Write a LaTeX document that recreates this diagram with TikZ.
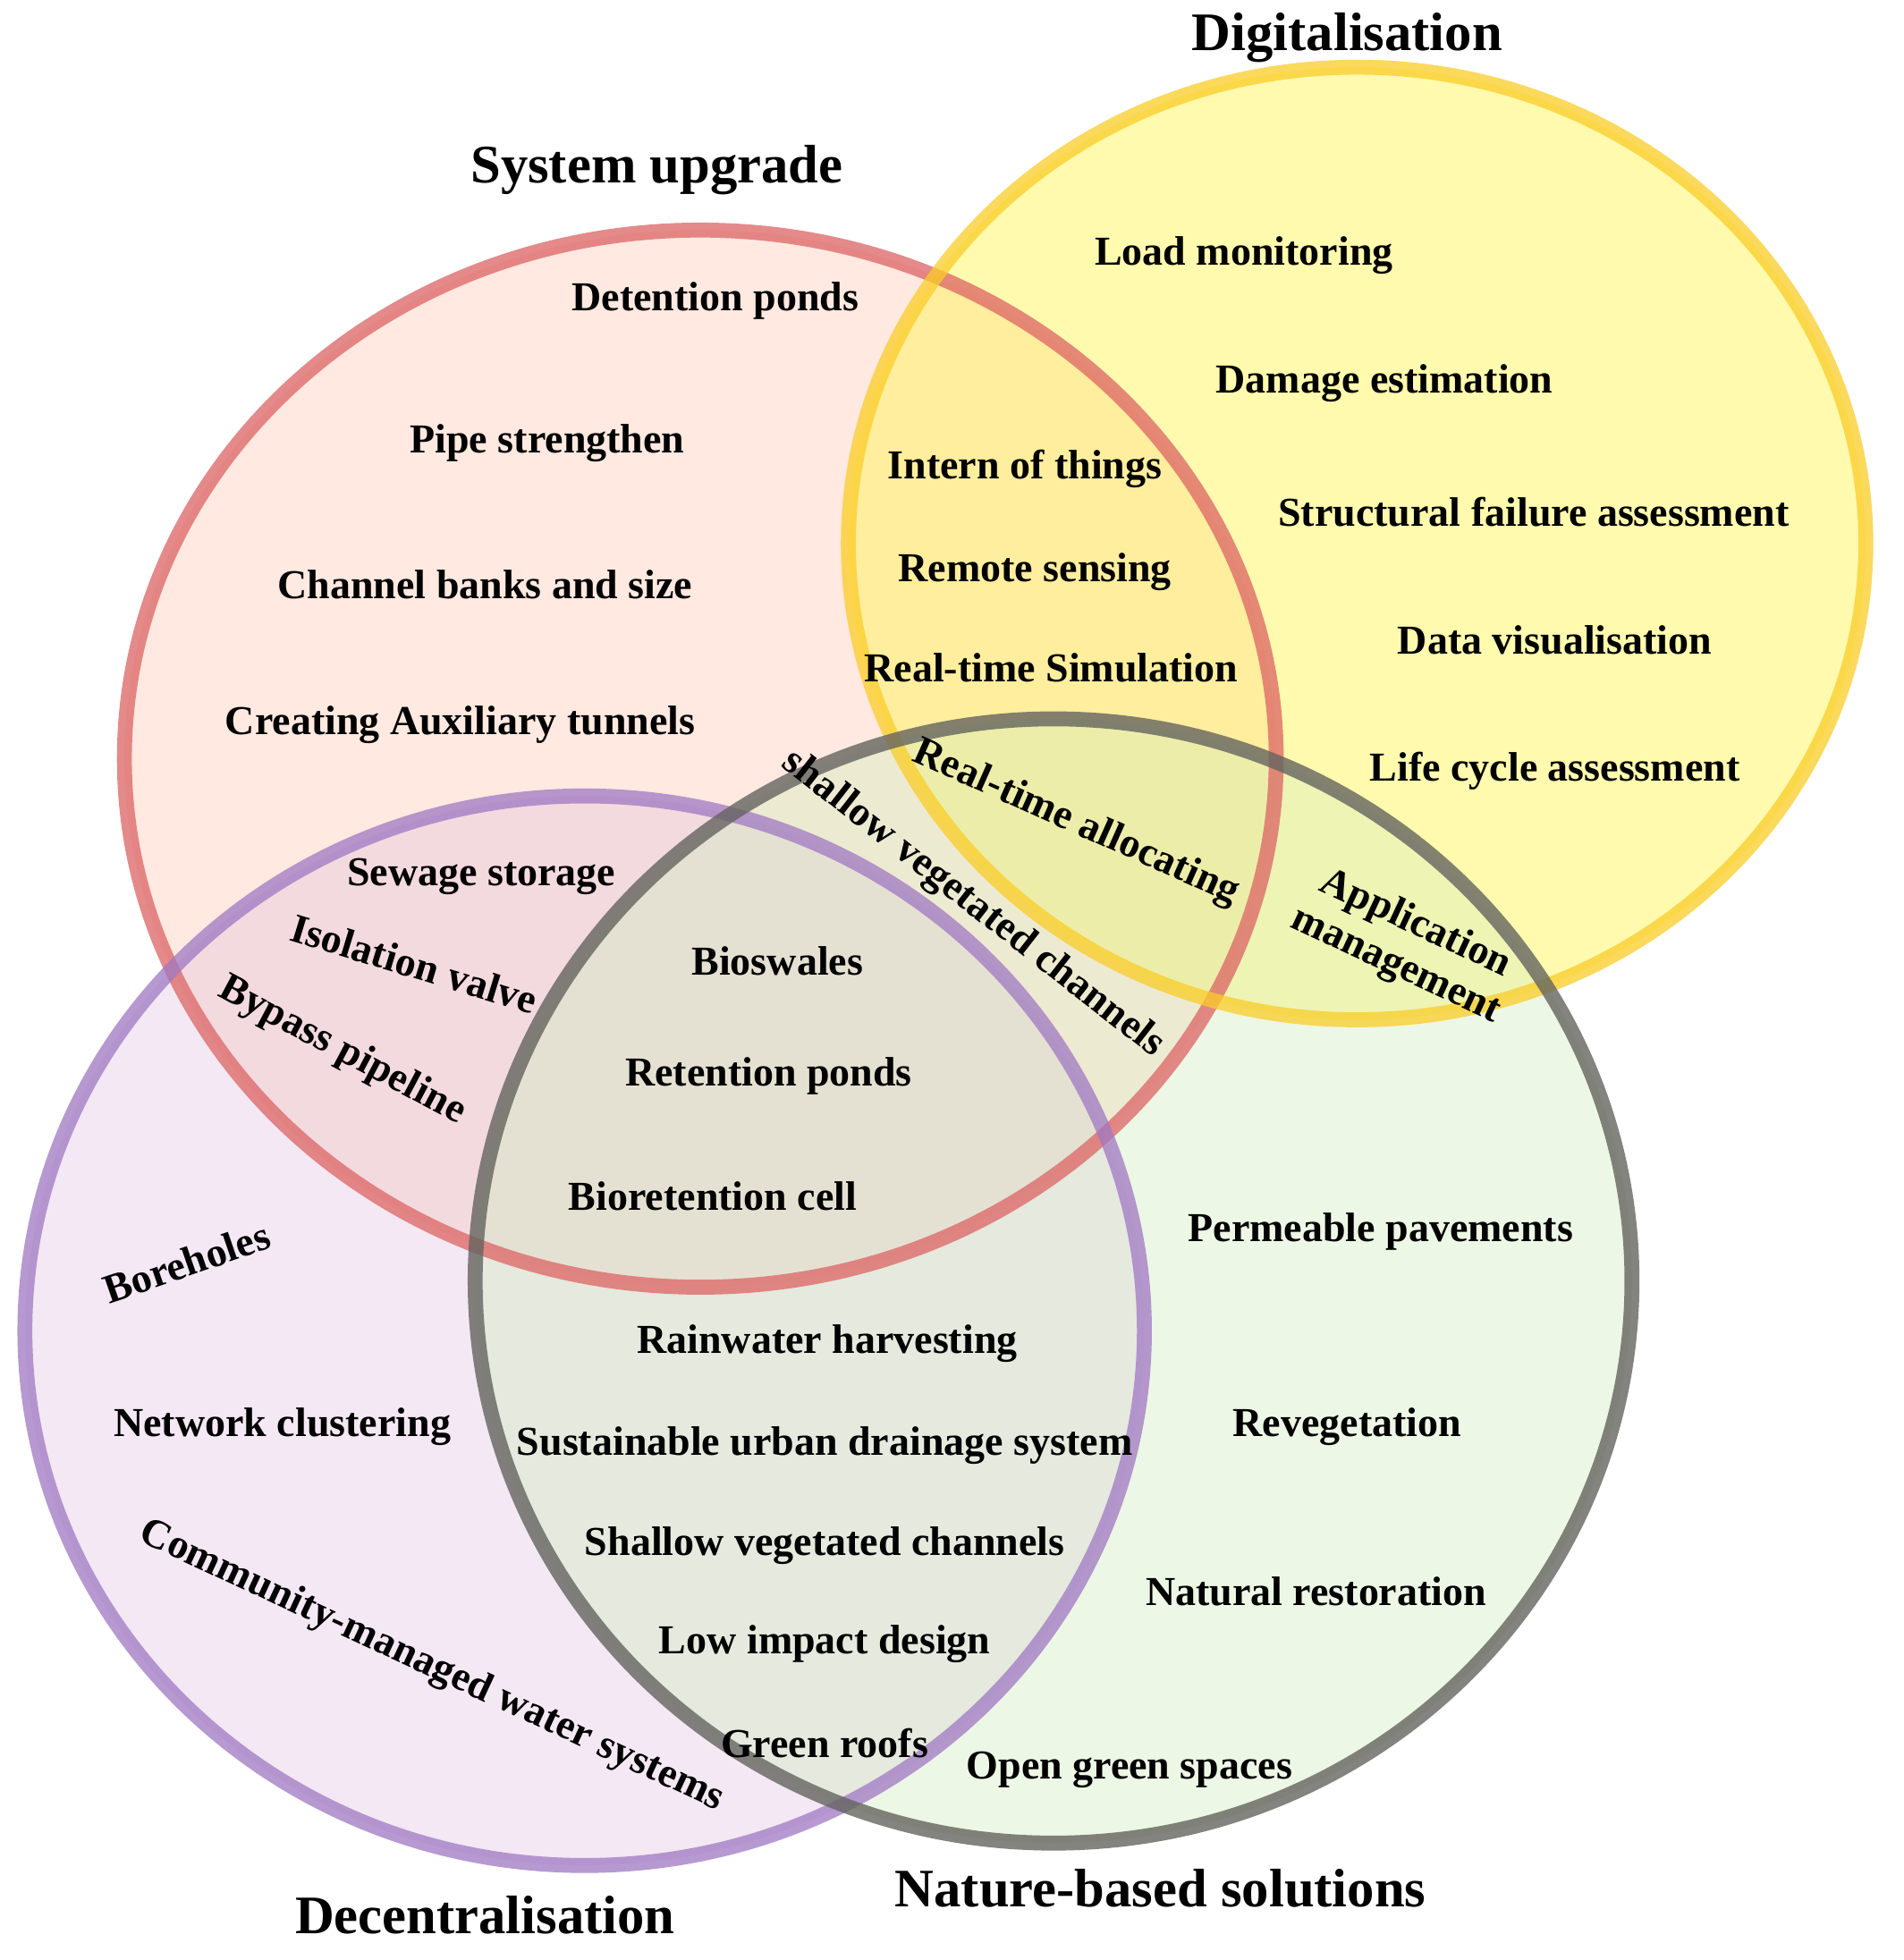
\documentclass[tikz,border=0pt]{standalone}
\usepackage{fontspec}
\setmainfont{Liberation Serif}
\begin{document}
\begin{tikzpicture}[x=0.01cm,y=-0.01cm,
 it/.style={font=\fontsize{9.4}{10.5}\selectfont\bfseries},
 ti/.style={font=\fontsize{12.4}{14}\selectfont\bfseries},
 ring/.style={line width=1.2mm}]
\useasboundingbox (0,0) rectangle (1530,1576);
\fill[white] (0,0) rectangle (1530,1576);
\fill[red!40!orange!30, fill opacity=0.4] (563,610) ellipse [x radius=463, y radius=425];
\fill[yellow!70, fill opacity=0.45] (1091,437) ellipse [x radius=409, y radius=383];
\fill[violet!25, fill opacity=0.35] (470,1070) ellipse [x radius=450, y radius=430];
\fill[green!40!olive!25, fill opacity=0.4] (847,1030) ellipse [x radius=465, y radius=452];
\draw[ring, draw={rgb,255:red,220;green,100;blue,100}, draw opacity=0.75] (563,610) ellipse [x radius=463, y radius=425];
\draw[ring, draw={rgb,255:red,250;green,205;blue,40}, draw opacity=0.75] (1091,437) ellipse [x radius=409, y radius=383];
\draw[ring, draw={rgb,255:red,160;green,120;blue,195}, draw opacity=0.75] (470,1070) ellipse [x radius=450, y radius=430];
\draw[ring, draw={rgb,255:red,100;green,100;blue,95}, draw opacity=0.8] (847,1030) ellipse [x radius=465, y radius=452];
% titles
\node[ti] (t1) at (528,137) {System upgrade};
\node[ti] (t2) at (1083,30) {Digitalisation};
\node[ti] (t3) at (390,1540) {Decentralisation};
\node[ti] (t4) at (933,1518) {Nature-based solutions};
% red
\node[it] (a1) at (575,242) {Detention ponds};
\node[it] (a2) at (440,356) {Pipe strengthen};
\node[it] (a3) at (390,470) {Channel banks and size};
\node[it] (a4) at (370,583) {Creating Auxiliary tunnels};
\node[it] (a5) at (387,705) {Sewage storage};
\node[it,rotate=-17] (a6) at (333,775) {Isolation valve};
\node[it,rotate=-28] (a7) at (275,845) {Bypass pipeline};
% yellow
\node[it] (b1) at (1000,205) {Load monitoring};
\node[it] (b2) at (1113,308) {Damage estimation};
\node[it] (b3) at (1233,412) {Structural failure assessment};
\node[it] (b4) at (1250,515) {Data visualisation};
\node[it] (b5) at (1250,620) {Life cycle assessment};
\node[it] (b6) at (824,377) {Intern of things};
\node[it] (b7) at (832,460) {Remote sensing};
\node[it] (b8) at (845,537) {Real-time Simulation};
\node[it,rotate=-24] (b9) at (865,662) {Real-time allocating};
\node[it,rotate=-25,align=center] (b10) at (1130,760) {Application\\management};
\node[it,rotate=-38] (c0) at (782,727) {shallow vegetated channels};
% center
\node[it] (c1) at (625,773) {Bioswales};
\node[it] (c2) at (618,865) {Retention ponds};
\node[it] (c3) at (573,962) {Bioretention cell};
\node[it] (c4) at (665,1080) {Rainwater harvesting};
\node[it] (c5) at (663,1162) {Sustainable urban drainage system};
\node[it] (c6) at (663,1243) {Shallow vegetated channels};
\node[it] (c7) at (663,1322) {Low impact design};
\node[it] (c8) at (663,1402) {Green roofs};
% purple
\node[it,rotate=19] (d1) at (150,1015) {Boreholes};
\node[it] (d2) at (227,1147) {Network clustering};
\node[it,rotate=-25] (d3) at (347,1340) {Community-managed water systems};
% green
\node[it] (e1) at (1110,990) {Permeable pavements};
\node[it] (e2) at (1083,1147) {Revegetation};
\node[it] (e3) at (1058,1280) {Natural restoration};
\node[it] (e4) at (908,1423) {Open green spaces};
\end{tikzpicture}
\end{document}
